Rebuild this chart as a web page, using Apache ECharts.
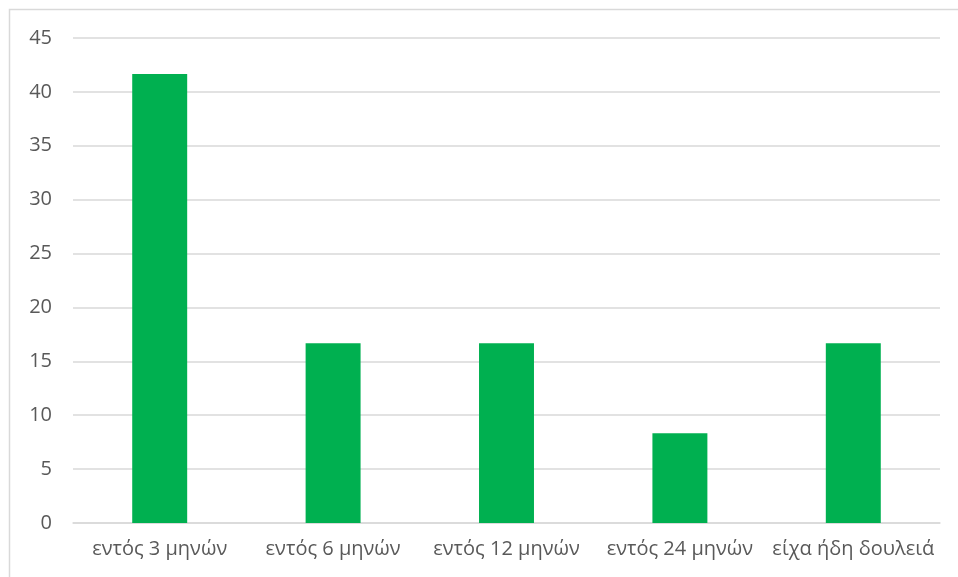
<!DOCTYPE html>
<html>
<head>
<meta charset="utf-8">
<script src="https://cdn.jsdelivr.net/npm/echarts@6/dist/echarts.min.js"></script>
<style>
html,body{margin:0;padding:0;background:#fff;}
#chart{width:958px;height:577px;}
</style>
</head>
<body>
<div id="chart"></div>
<script>
const categories = ['εντός 3 μηνών', 'εντός 6 μηνών', 'εντός 12 μηνών', 'εντός 24 μηνών', 'είχα ήδη δουλειά'];
const values = [41.67, 16.67, 16.67, 8.33, 16.67];
const yTicks = [0, 5, 10, 15, 20, 25, 30, 35, 40, 45];

const chart = echarts.init(document.getElementById('chart'));
chart.setOption({
  backgroundColor: '#fff',
  animation: false,
  graphic: [{
    type: 'rect',
    shape: { x: 9.5, y: 9.5, width: 1200, height: 1200 },
    style: { fill: 'none', stroke: '#d9d9d9', lineWidth: 1.5 },
    silent: true
  }],
  grid: { left: 73, right: 18, top: 38, bottom: 54 },
  xAxis: {
    type: 'category',
    data: categories,
    axisLine: { show: true, lineStyle: { color: '#d9d9d9', width: 1.5 } },
    axisTick: { show: false },
    axisLabel: { color: '#595959', fontSize: 20, fontFamily: 'Open Sans', margin: 16, interval: 0 }
  },
  yAxis: {
    type: 'value',
    min: yTicks[0],
    max: yTicks[yTicks.length - 1],
    interval: 5,
    axisLine: { show: false },
    axisTick: { show: false },
    splitLine: { lineStyle: { color: '#d9d9d9', width: 1.5 } },
    axisLabel: { color: '#595959', fontSize: 20, fontFamily: 'Open Sans', margin: 21 }
  },
  series: [{
    type: 'bar',
    data: values,
    barWidth: '31.7%',
    itemStyle: { color: '#00b050' }
  }]
});
</script>
</body>
</html>
